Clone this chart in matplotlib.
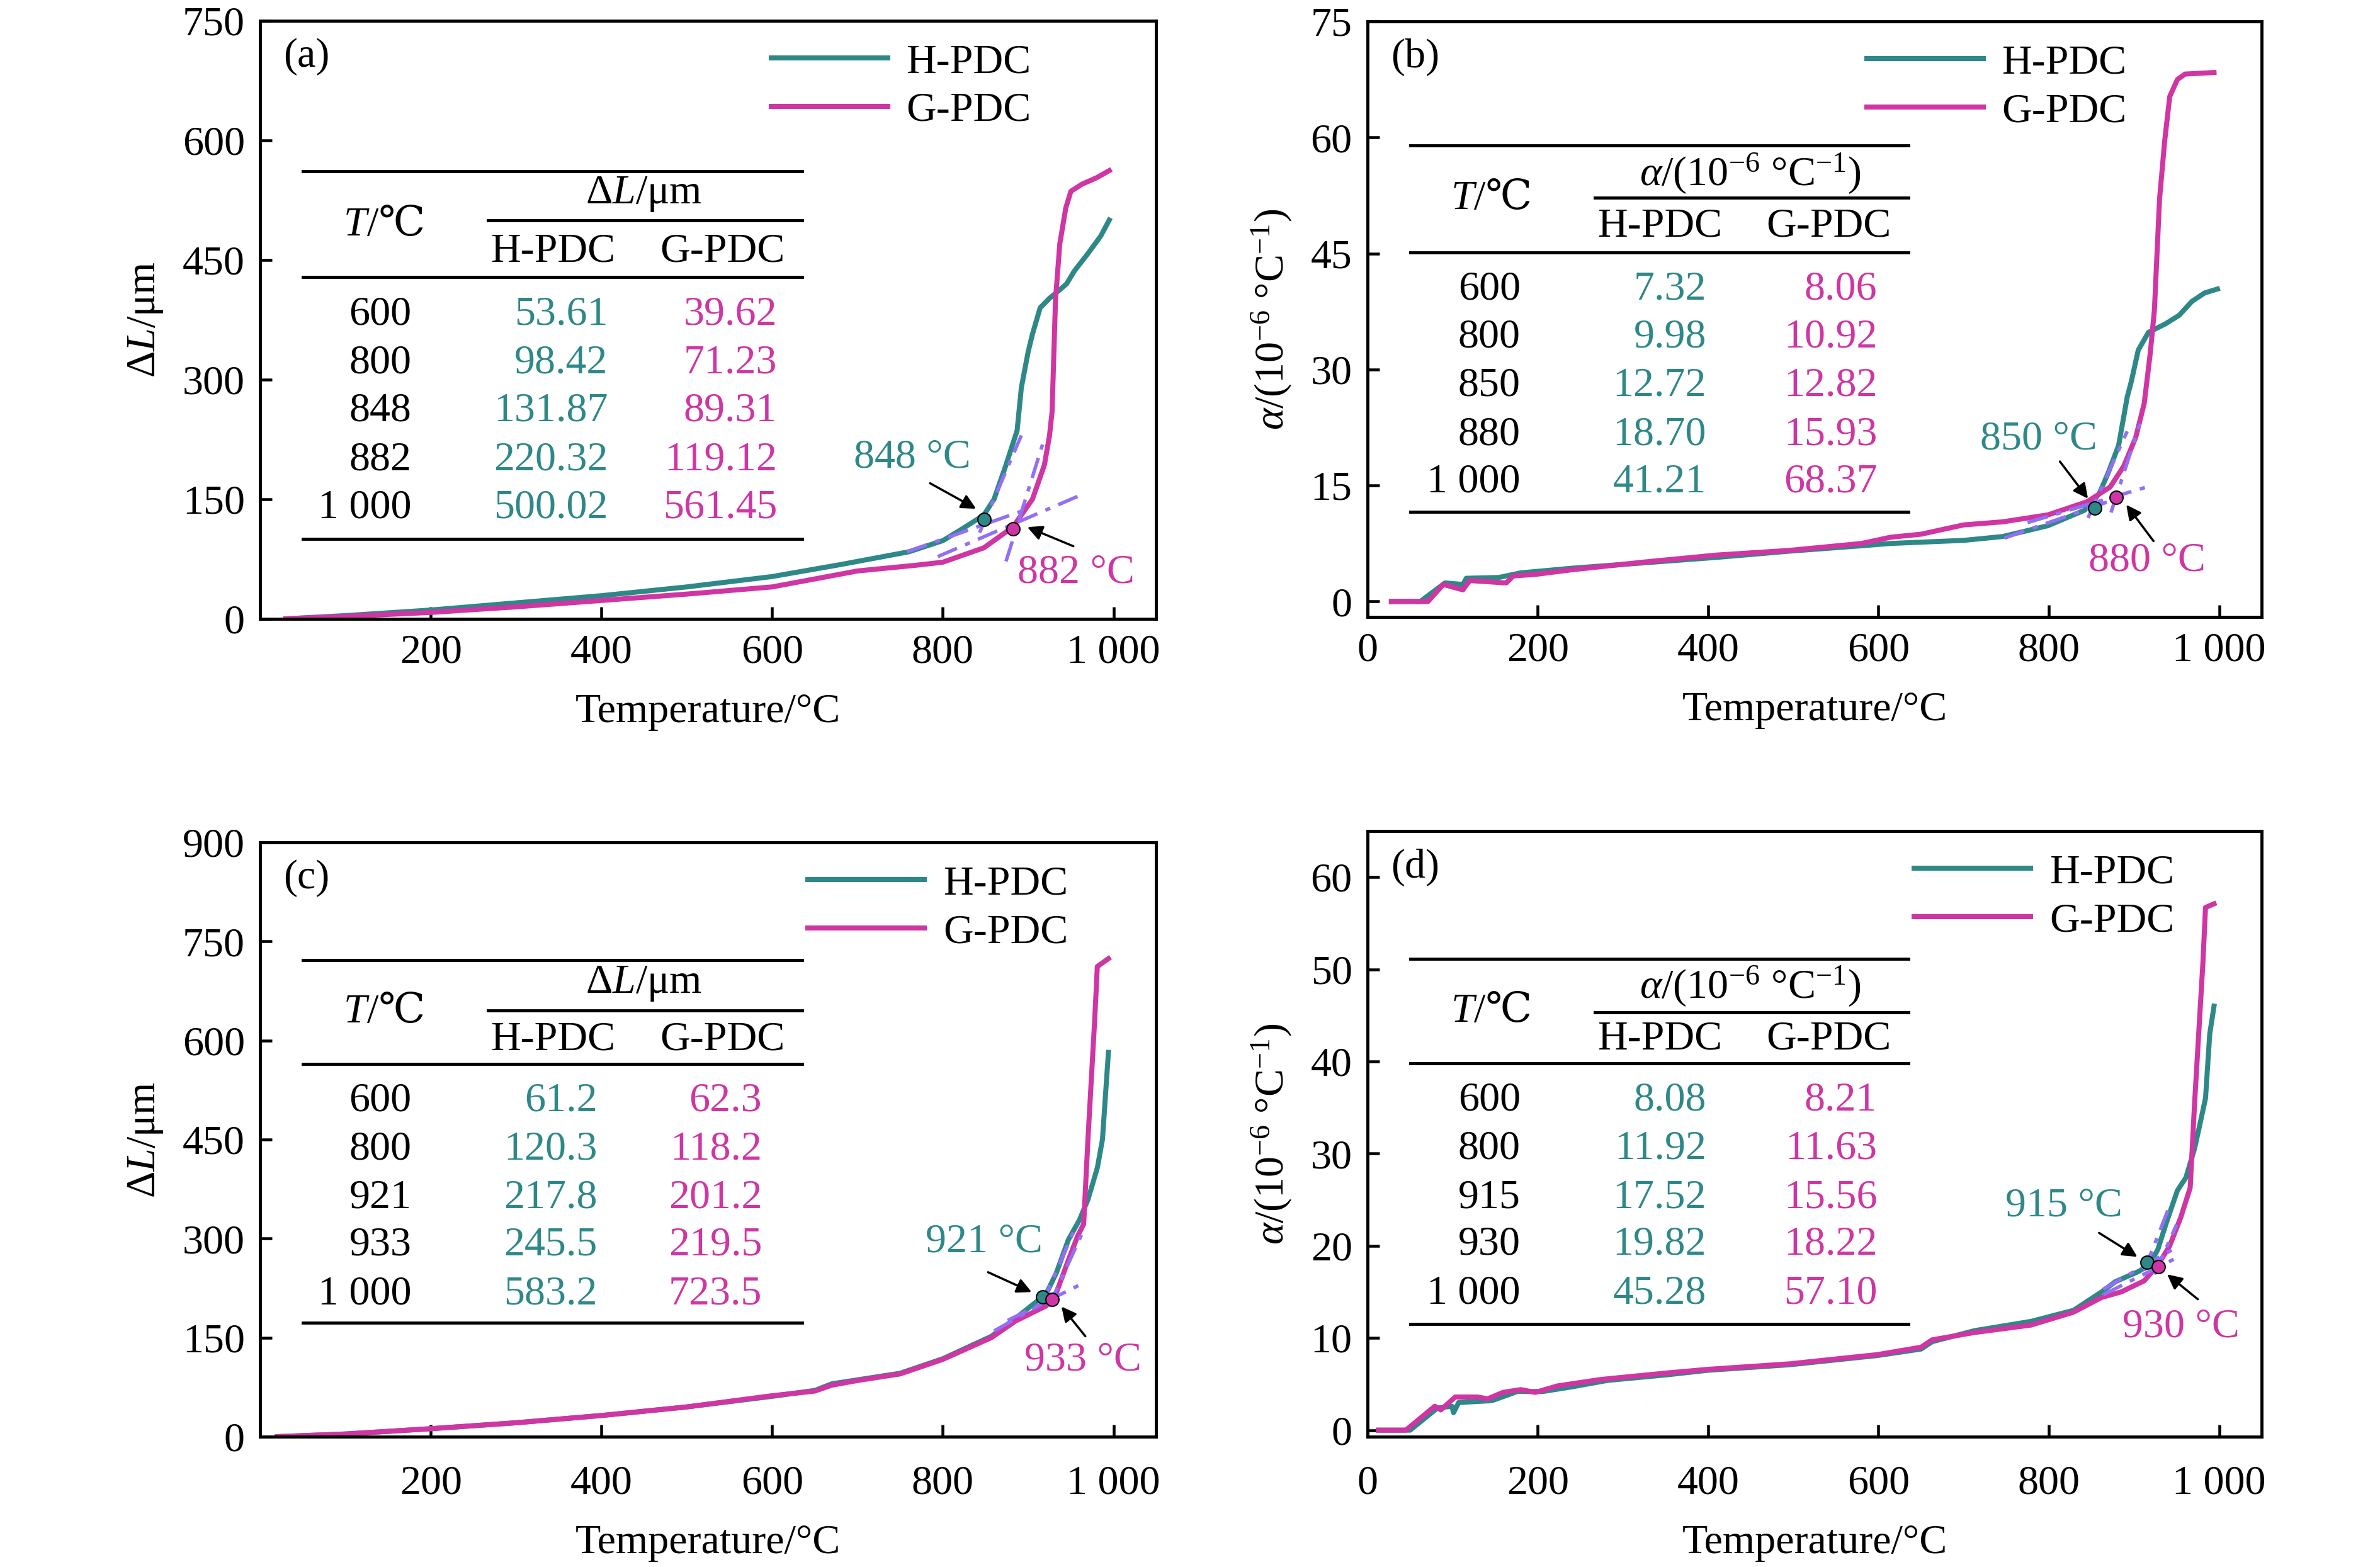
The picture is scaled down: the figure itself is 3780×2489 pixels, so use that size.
import matplotlib
matplotlib.use('Agg')
import matplotlib.pyplot as plt

# ---- data ----
# (a) expansion dL (um) vs temperature
Ta_h = [30, 100, 200, 300, 400, 500, 600, 680, 760, 800, 820, 848, 860, 874, 887, 892, 900, 905, 914, 925, 932, 945, 954, 970, 985, 995]
La_h = [0, 4, 11, 20, 29, 40, 53, 68, 84, 98, 111, 130, 150, 193, 236, 290, 335, 357, 390, 402, 408, 420, 436, 458, 480, 500]
Ta_g = [30, 100, 200, 300, 400, 500, 600, 700, 767, 800, 848, 882, 905, 919, 925, 928, 932, 937, 944, 950, 963, 980, 995]
La_g = [0, 3, 8, 15, 23, 31, 40, 60, 67, 71, 89, 115, 150, 193, 230, 260, 400, 470, 515, 536, 545, 553, 562]

# (b) CTE alpha vs temperature
Tb_h = [28, 62, 91, 112, 116, 154, 180, 240, 325, 410, 495, 580, 614, 700, 746, 799, 842, 859, 870, 882, 892, 897, 905, 917, 937, 953, 968, 983, 998]
Ab_h = [0, 0, 2.4, 2.2, 3.0, 3.1, 3.7, 4.3, 5.0, 5.7, 6.5, 7.2, 7.5, 7.9, 8.4, 9.8, 11.8, 13.9, 16.7, 20.2, 26.4, 28.5, 32.5, 34.8, 35.9, 37.0, 38.8, 39.9, 40.4]
Tb_g = [28, 71, 89, 112, 120, 163, 171, 197, 240, 325, 410, 495, 580, 614, 650, 700, 746, 799, 845, 872, 888, 902, 912, 919, 924, 930, 936, 942, 951, 960, 994]
Ab_g = [0, 0, 2.2, 1.5, 2.7, 2.4, 3.3, 3.5, 4.1, 5.1, 6.0, 6.6, 7.5, 8.3, 8.7, 9.9, 10.3, 11.2, 12.9, 14.8, 17.5, 21.2, 25.6, 32, 37.7, 52, 59.5, 65.3, 67.5, 68.2, 68.4]

# (c) expansion dL (um) vs temperature
Tc_h = [20, 100, 200, 300, 400, 500, 600, 650, 670, 700, 750, 800, 857, 885, 921, 933, 947, 960, 970, 981, 987, 994]
Lc_h = [0, 4, 12, 21, 32, 45, 61, 70, 80, 86, 96, 118, 152, 179, 216, 248, 298, 328, 359, 407, 450, 582]
Tc_g = [20, 100, 200, 300, 400, 500, 600, 650, 670, 700, 750, 800, 857, 885, 921, 933, 947, 958, 965, 970, 978, 981, 994]
Lc_g = [0, 4, 12, 21, 32, 45, 62, 69, 78, 85, 95, 117, 150, 175, 198, 218, 267, 304, 322, 450, 633, 712, 724]

# (d) CTE alpha vs temperature
Td_h = [13, 50, 82, 99, 101, 107, 146, 176, 206, 240, 282, 351, 400, 496, 599, 650, 663, 713, 779, 829, 862, 878, 905, 918, 928, 938, 951, 961, 971, 977, 984, 989, 994]
Ad_h = [0, 0, 2.4, 2.6, 1.9, 3.0, 3.2, 4.2, 4.2, 4.7, 5.4, 6.0, 6.5, 7.1, 8.1, 8.8, 9.6, 10.8, 11.8, 13.0, 15.0, 16.1, 17.2, 17.9, 19.6, 22.5, 26.0, 27.4, 30.5, 33.0, 36.0, 43.0, 46.0]
Td_g = [13, 45, 79, 86, 103, 129, 141, 159, 180, 197, 223, 274, 351, 400, 496, 599, 650, 663, 713, 779, 829, 862, 885, 912, 928, 942, 955, 966, 971, 981, 984, 994]
Ad_g = [0, 0, 2.6, 2.2, 3.6, 3.6, 3.4, 4.1, 4.4, 4.1, 4.8, 5.5, 6.2, 6.6, 7.2, 8.2, 9.0, 9.8, 10.6, 11.4, 12.8, 14.4, 15.0, 16.2, 17.9, 20.0, 23.1, 26.3, 35.2, 50.8, 56.7, 57.1]

# tangent (fit) lines: [(T0, y0), (T1, y1)]
fits_a = [[(758, 84), (895, 136)], [(843, 108), (892, 230)], [(794, 78), (959, 154)], [(874, 72), (919, 226)]]
fits_b = [[(748, 8.2), (880, 13.3)], [(846, 10.8), (892, 22)], [(775, 10.2), (915, 14.8)], [(873, 11.5), (907, 23)]]
fits_c = [[(860, 160), (935, 215)], [(916, 200), (957, 322)], [(876, 176), (967, 234)], [(924, 197), (964, 310)]]
fits_d = [[(864, 15.3), (953, 20.0)], [(912, 17.3), (940, 23.9)], [(864, 14.7), (948, 18.6)], [(924, 16.9), (950, 22.3)]]

# transition points
pts_a = [(848, 125), (882, 113)]
pts_b = [(854, 12.1), (879, 13.5)]
pts_c = [(917, 212), (928, 208)]
pts_d = [(915, 18.2), (929, 17.7)]

# annotation: label text, text position, arrow tail, arrow head
notes_a = [('848 °C', (764, 202), (785, 170), (839, 138)), ('882 °C', (956, 58), (953, 91), (899, 115))]
notes_b = [('850 °C', (788, 21.0), (813, 18.1), (846, 13.3)), ('880 °C', (915, 5.3), (923, 7.8), (891, 12.5))]
notes_c = [('921 °C', (848, 295), (853, 249), (904, 219)), ('933 °C', (964, 116), (967, 152), (939, 197))]
notes_d = [('915 °C', (818, 24.3), (859, 21.4), (904, 18.8)), ('930 °C', (955, 11.2), (975, 14.2), (939, 16.9))]

# inset tables
rows_a = ['600', '800', '848', '882', '1 000']
h_a = ['53.61', '98.42', '131.87', '220.32', '500.02']
g_a = ['39.62', '71.23', '89.31', '119.12', '561.45']
rows_b = ['600', '800', '850', '880', '1 000']
h_b = ['7.32', '9.98', '12.72', '18.70', '41.21']
g_b = ['8.06', '10.92', '12.82', '15.93', '68.37']
rows_c = ['600', '800', '921', '933', '1 000']
h_c = ['61.2', '120.3', '217.8', '245.5', '583.2']
g_c = ['62.3', '118.2', '201.2', '219.5', '723.5']
rows_d = ['600', '800', '915', '930', '1 000']
h_d = ['8.08', '11.92', '17.52', '19.82', '45.28']
g_d = ['8.21', '11.63', '15.56', '18.22', '57.10']

TEAL = '#2e8888'
MAG = '#cf35a3'
FIT = '#9270f5'
FS = 19
FAMILY = ['Liberation Serif', 'DejaVu Serif', 'Noto Sans CJK SC']

plt.rcParams['font.family'] = FAMILY
plt.rcParams['mathtext.fontset'] = 'custom'
plt.rcParams['mathtext.rm'] = 'Liberation Serif'
plt.rcParams['mathtext.it'] = 'Liberation Serif:italic'
plt.rcParams['mathtext.fallback'] = 'stix'


def draw_panel(ax, th, yh, tg, yg, fits, pts, notes, letter, ylim, yticks, xlabels, ylabel, leg_x, xpad):
    ax.plot(th, yh, color=TEAL, lw=2.3, label='H-PDC', solid_joinstyle='round')
    ax.plot(tg, yg, color=MAG, lw=2.3, label='G-PDC', solid_joinstyle='round')
    for seg in fits:
        ax.plot([seg[0][0], seg[1][0]], [seg[0][1], seg[1][1]], color=FIT, lw=1.6,
                dashes=(6, 2.5, 1.5, 2.5))
    ax.plot(pts[0][0], pts[0][1], 'o', ms=6, mfc=TEAL, mec='black', mew=0.6)
    ax.plot(pts[1][0], pts[1][1], 'o', ms=6, mfc=MAG, mec='black', mew=0.6)
    for note, col in zip(notes, [TEAL, MAG]):
        ax.text(note[1][0], note[1][1], note[0], color=col, fontsize=FS, ha='center', va='center')
        ax.annotate('', xy=note[3], xytext=note[2],
                    arrowprops=dict(arrowstyle='-|>', color='black', lw=1.0, mutation_scale=14,
                                    shrinkA=0, shrinkB=0))
    ax.set_xlim(0, 1050)
    ax.set_ylim(*ylim)
    if xlabels[0] == '0':
        ax.set_xticks([0, 200, 400, 600, 800, 1000])
    else:
        ax.set_xticks([200, 400, 600, 800, 1000])
    ax.set_xticklabels(xlabels)
    ax.set_yticks(yticks)
    ax.set_yticklabels([str(v) for v in yticks])
    ax.tick_params(direction='in', length=5.5, width=1.3, labelsize=FS, pad=7,
                   top=False, right=False)
    ax.tick_params(axis='x', pad=xpad)
    for sp in ax.spines.values():
        sp.set_linewidth(1.4)
    ax.set_xlabel('Temperature/°C', fontsize=FS, labelpad=10)
    ax.set_ylabel(ylabel, fontsize=FS, labelpad=8)
    ax.text(0.026, 0.94, letter, transform=ax.transAxes, fontsize=FS, ha='left', va='center')
    ax.legend(loc='upper left', bbox_to_anchor=(leg_x, 1.0), frameon=False, fontsize=FS,
              handlelength=2.8, handletextpad=0.45, labelspacing=0.25, borderaxespad=0.15)


def draw_table(ax, head, rows, hv, gv, ys, col_x):
    # ys: top rule, mid rule, header rule, bottom rule, head text, T text, sub text, then rows
    x0, xm, x1 = 0.048, 0.254, 0.605
    tr = ax.transAxes
    for y, xs in [(ys[0], x0), (ys[1], xm), (ys[2], x0), (ys[3], x0)]:
        ax.plot([xs, x1], [y, y], color='black', lw=1.4, transform=tr, clip_on=False)
    ax.text(0.428, ys[4], head, transform=tr, fontsize=FS, ha='center', va='center')
    ax.text(0.119, ys[5], 'T', transform=tr, fontsize=FS, ha='right', va='center', style='italic')
    ax.text(0.119, ys[5], '/℃', transform=tr, fontsize=FS, ha='left', va='center', family=FAMILY)
    ax.text(0.327, ys[6], 'H-PDC', transform=tr, fontsize=FS, ha='center', va='center')
    ax.text(0.516, ys[6], 'G-PDC', transform=tr, fontsize=FS, ha='center', va='center')
    for i in range(5):
        y = ys[7 + i]
        ax.text(col_x[0], y, rows[i], transform=tr, fontsize=FS, ha='right', va='center')
        ax.text(col_x[1], y, hv[i], transform=tr, fontsize=FS, ha='right', va='center', color=TEAL)
        ax.text(col_x[2], y, gv[i], transform=tr, fontsize=FS, ha='right', va='center', color=MAG)


def main():
    fig = plt.figure(figsize=(15.12, 9.956), dpi=250)
    ax_a = fig.add_axes([0.1093, 0.6051, 0.3765, 0.3817])
    ax_b = fig.add_axes([0.5746, 0.6063, 0.3757, 0.3800])
    ax_c = fig.add_axes([0.1093, 0.0832, 0.3765, 0.3792])
    ax_d = fig.add_axes([0.5746, 0.0832, 0.3757, 0.3865])

    dl_label = r'$\Delta\mathit{L}$/μm'
    al_label = r'$\alpha$/(10$^{-6}$ °C$^{-1}$)'
    xl1 = ['200', '400', '600', '800', '1 000']
    xl0 = ['0', '200', '400', '600', '800', '1 000']

    draw_panel(ax_a, Ta_h, La_h, Ta_g, La_g, fits_a, pts_a, notes_a, '(a)', (0, 750),
               [0, 150, 300, 450, 600, 750], xl1, dl_label, 0.545, 7)
    draw_panel(ax_b, Tb_h, Ab_h, Tb_g, Ab_g, fits_b, pts_b, notes_b, '(b)', (-2, 75),
               [0, 15, 30, 45, 60, 75], xl0, al_label, 0.533, 7)
    draw_panel(ax_c, Tc_h, Lc_h, Tc_g, Lc_g, fits_c, pts_c, notes_c, '(c)', (0, 900),
               [0, 150, 300, 450, 600, 750, 900], xl1, dl_label, 0.586, 13)
    draw_panel(ax_d, Td_h, Ad_h, Td_g, Ad_g, fits_d, pts_d, notes_d, '(d)', (-0.7, 65),
               [0, 10, 20, 30, 40, 50, 60], xl0, al_label, 0.586, 13)

    draw_table(ax_a, dl_label, rows_a, h_a, g_a,
               [0.748, 0.666, 0.571, 0.134, 0.710, 0.658, 0.614, 0.509, 0.427, 0.347, 0.265, 0.185],
               [0.169, 0.388, 0.577])
    draw_table(ax_b, al_label, rows_b, h_b, g_b,
               [0.792, 0.704, 0.612, 0.177, 0.745, 0.702, 0.656, 0.550, 0.470, 0.388, 0.306, 0.226],
               [0.171, 0.379, 0.570])
    draw_table(ax_c, dl_label, rows_c, h_c, g_c,
               [0.802, 0.717, 0.627, 0.192, 0.762, 0.714, 0.668, 0.565, 0.483, 0.402, 0.322, 0.240],
               [0.169, 0.376, 0.560])
    draw_table(ax_d, al_label, rows_d, h_d, g_d,
               [0.789, 0.701, 0.616, 0.186, 0.744, 0.701, 0.656, 0.555, 0.475, 0.394, 0.317, 0.236],
               [0.171, 0.379, 0.570])

    fig.savefig('out.png', dpi=250)


if __name__ == '__main__':
    main()
